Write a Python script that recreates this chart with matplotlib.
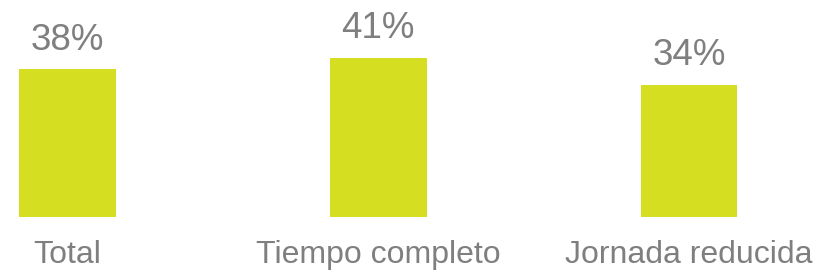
import matplotlib.pyplot as plt

categorias = ["Total", "Tiempo completo", "Jornada reducida"]
valores = [38, 41, 34]
etiquetas = ["38%", "41%", "34%"]

plt.rcParams['font.family'] = ['Liberation Sans', 'DejaVu Sans']

fig = plt.figure(figsize=(8.17, 2.73), dpi=100)
ax = fig.add_axes([0, 56/273, 1, 217/273])

x = list(range(len(categorias)))
ax.bar(x, valores, width=97/311, color="#D6DE22")

for xi, v, et in zip(x, valores, etiquetas):
    ax.annotate(et, xy=(xi, v), xytext=(0, 14), textcoords="offset points",
                ha="center", va="baseline", fontsize=26.5, color="#7F7F7F")

for xi, cat in zip(x, categorias):
    ax.annotate(cat, xy=(xi, 0), xycoords=("data", "axes fraction"),
                xytext=(0, -33), textcoords="offset points",
                ha="center", va="baseline", fontsize=23, color="#7F7F7F")

ax.set_xlim(-67/311, (817-67)/311)
ax.set_ylim(0, 217/3.885)
ax.set_xticks([])
ax.set_yticks([])
for s in ax.spines.values():
    s.set_visible(False)

fig.savefig("out.png", dpi=100)
